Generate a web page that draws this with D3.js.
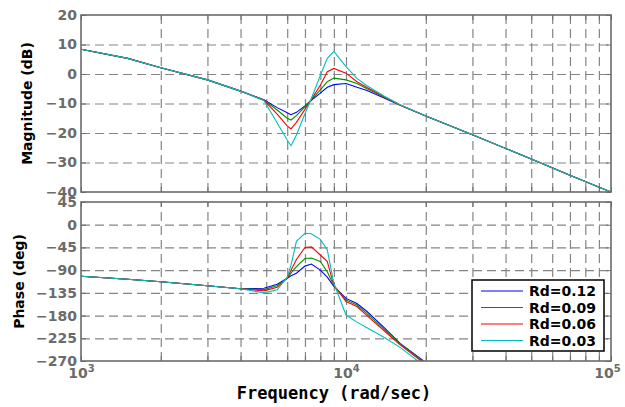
<!DOCTYPE html>
<html>
<head>
<meta charset="utf-8">
<script src="https://cdn.jsdelivr.net/npm/d3@7"></script>
<style>
  body { margin: 0; background: #fff; }
  svg { display: block; }
</style>
</head>
<body>
<script>
// frequency points (rad/sec)
var freq = [1000, 1500, 2000, 3000, 4000, 4900, 5500, 6000, 6200, 6500, 7000, 7400, 8000, 8500, 9000, 10000, 11000, 12000, 14000, 16000, 20000, 30000, 50000, 70000, 100000];

// magnitude (dB)
var magRd012 = [8.4, 5.3, 2.1, -2.0, -5.8, -8.7, -11.4, -13.1, -13.8, -13.0, -10.8, -8.9, -6.5, -4.5, -3.6, -3.2, -4.5, -5.6, -8.2, -10.6, -14.2, -20.6, -28.8, -34.3, -40];
var magRd009 = [8.4, 5.3, 2.1, -2.0, -5.8, -8.8, -12.2, -15.0, -15.6, -14.1, -11.1, -8.8, -5.4, -2.6, -1.4, -2.0, -3.2, -5.0, -7.9, -10.5, -14.2, -20.6, -28.8, -34.3, -40];
var magRd006 = [8.4, 5.3, 2.1, -2.0, -5.8, -8.9, -13.6, -17.6, -18.6, -16.4, -12.0, -8.6, -3.8, 0.8, 1.9, 0.3, -2.6, -4.6, -7.8, -10.5, -14.2, -20.6, -28.8, -34.3, -40];
var magRd003 = [8.4, 5.3, 2.1, -2.0, -5.8, -9.0, -16.6, -22.4, -24.3, -20.7, -13.5, -8.3, -0.5, 5.3, 7.7, 2.5, -1.5, -4.0, -7.6, -10.4, -14.2, -20.6, -28.8, -34.3, -40];

// phase (deg), null where the curve is off the chart
var phRd012 = [-102, -108, -113, -121, -127, -126, -118, -106, -101, -96, -82, -78, -90, -104, -122, -146, -156, -172, -205, -235, -273, null, null, null, null];
var phRd009 = [-102, -108, -113, -121, -127, -128.5, -121, -106, -96, -83, -67, -66, -73, -93, -121, -149, -159, -176, -208, -236, -275, null, null, null, null];
var phRd006 = [-102, -108, -113, -121, -127, -131, -124, -106, -90, -69, -45, -44, -60, -73, -120, -152, -162, -180, -211, -238, -277, null, null, null, null];
var phRd003 = [-102, -108, -113, -121, -127, -135, -129, -104, -80, -33, -17, -18, -29, -50, -116, -179, -193, -204, -224, -243, -282, null, null, null, null];

var seriesNames = ["Rd=0.12", "Rd=0.09", "Rd=0.06", "Rd=0.03"];
var seriesColors = ["#0000ff", "#009000", "#ff0000", "#00bfbf"];
var magSeries = [magRd012, magRd009, magRd006, magRd003];
var phSeries = [phRd012, phRd009, phRd006, phRd003];

var magTicks = [20, 10, 0, -10, -20, -30, -40];
var phTicks = [45, 0, -45, -90, -135, -180, -225, -270];
var decades = [1e3, 1e4, 1e5];

// all log grid positions 1..9 x 10^n
var logTicks = [];
[1e3, 1e4].forEach(function (d) {
	for (var k = 1; k < 10; k++) logTicks.push(d * k);
});
logTicks.push(1e5);

var W = 625, H = 407;
var left = 81, right = 611;
var magTop = 15, magBottom = 192;
var phTop = 202, phBottom = 361;

var svg = d3.select("body").append("svg")
	.attr("width", W)
	.attr("height", H);

var x = d3.scaleLog().domain([1e3, 1e5]).range([left, right]);
var yMag = d3.scaleLinear().domain([-40, 20]).range([magBottom, magTop]);
var yPh = d3.scaleLinear().domain([-270, 45]).range([phBottom, phTop]);

var tickFont = "DejaVu Sans, sans-serif";
var tickColor = "#6b6b6b";
var boxColor = "#6b6b6b";
var gridColor = "#858585";

function drawPanel(id, y, top, bottom, yTicks, seriesList) {
	var g = svg.append("g").attr("class", id);

	svg.append("clipPath").attr("id", "clip-" + id)
		.append("rect")
		.attr("x", left).attr("y", top)
		.attr("width", right - left).attr("height", bottom - top);

	// vertical grid
	g.append("g")
		.attr("transform", "translate(0," + bottom + ")")
		.call(d3.axisBottom(x).tickValues(logTicks.slice(1, -1)).tickSize(-(bottom - top)).tickFormat(""))
		.call(function (a) {
			a.select(".domain").remove();
			a.selectAll("line").attr("stroke", gridColor).attr("stroke-width", 1.2).attr("stroke-dasharray", "9,5");
		});

	// horizontal grid
	g.append("g")
		.attr("transform", "translate(" + left + ",0)")
		.call(d3.axisLeft(y).tickValues(yTicks.slice(1, -1)).tickSize(-(right - left)).tickFormat(""))
		.call(function (a) {
			a.select(".domain").remove();
			a.selectAll("line").attr("stroke", gridColor).attr("stroke-width", 1.2).attr("stroke-dasharray", "9,5");
		});

	// curves
	var line = d3.line()
		.defined(function (d) { return d.v != null; })
		.x(function (d) { return x(d.f); })
		.y(function (d) { return y(d.v); });

	var curves = g.append("g").attr("clip-path", "url(#clip-" + id + ")");
	seriesList.forEach(function (vals, i) {
		var pts = freq.map(function (f, j) { return { f: f, v: vals[j] }; });
		curves.append("path")
			.datum(pts)
			.attr("fill", "none")
			.attr("stroke", seriesColors[i])
			.attr("stroke-width", 1.1)
			.attr("d", line);
	});

	// inward ticks on all four sides
	function styleTicks(a) {
		a.select(".domain").remove();
		a.selectAll("line").attr("stroke", boxColor).attr("stroke-width", 1);
	}
	g.append("g").attr("transform", "translate(0," + bottom + ")")
		.call(d3.axisBottom(x).tickValues(logTicks).tickSize(-5).tickFormat(""))
		.call(styleTicks);
	g.append("g").attr("transform", "translate(0," + top + ")")
		.call(d3.axisTop(x).tickValues(logTicks).tickSize(-5).tickFormat(""))
		.call(styleTicks);
	g.append("g").attr("transform", "translate(" + right + ",0)")
		.call(d3.axisRight(y).tickValues(yTicks).tickSize(-5).tickFormat(""))
		.call(styleTicks);

	// left axis with labels
	g.append("g").attr("transform", "translate(" + left + ",0)")
		.call(d3.axisLeft(y).tickValues(yTicks).tickSize(-5).tickPadding(4)
			.tickFormat(function (d) { return d < 0 ? "\u2212" + Math.abs(d) : d; }))
		.call(function (a) {
			styleTicks(a);
			a.selectAll("text")
				.attr("font-family", tickFont)
				.attr("font-weight", "bold")
				.attr("font-size", 14)
				.attr("fill", tickColor);
		});

	// box
	g.append("rect")
		.attr("x", left).attr("y", top)
		.attr("width", right - left).attr("height", bottom - top)
		.attr("fill", "none")
		.attr("stroke", boxColor)
		.attr("stroke-width", 1.6);

	return g;
}

drawPanel("mag", yMag, magTop, magBottom, magTicks, magSeries);
drawPanel("ph", yPh, phTop, phBottom, phTicks, phSeries);

// decade labels 10^n under the phase panel
var xLab = svg.append("g").attr("transform", "translate(0," + phBottom + ")")
	.call(d3.axisBottom(x).tickValues(decades).tickSize(0).tickPadding(5).tickFormat(""));
xLab.select(".domain").remove();
xLab.selectAll(".tick text").each(function (d) {
	var t = d3.select(this)
		.attr("font-family", tickFont)
		.attr("font-weight", "bold")
		.attr("font-size", 14)
		.attr("fill", tickColor)
		.attr("dy", "0.85em")
		.attr("dx", d === 1e5 ? -4 : 0);
	t.append("tspan").text("10");
	t.append("tspan").attr("font-size", 10).attr("dy", "-6").text(Math.round(Math.log10(d)));
});

// axis titles
svg.append("text")
	.attr("transform", "translate(32," + ((magTop + magBottom) / 2) + ") rotate(-90)")
	.attr("text-anchor", "middle")
	.attr("font-family", tickFont)
	.attr("font-weight", "bold")
	.attr("font-size", 14)
	.attr("fill", "#000")
	.text("Magnitude (dB)");

svg.append("text")
	.attr("transform", "translate(24," + ((phTop + phBottom) / 2) + ") rotate(-90)")
	.attr("text-anchor", "middle")
	.attr("font-family", tickFont)
	.attr("font-weight", "bold")
	.attr("font-size", 14)
	.attr("fill", "#000")
	.text("Phase (deg)");

svg.append("text")
	.attr("x", (left + right) / 2 - 12)
	.attr("y", 399)
	.attr("text-anchor", "middle")
	.attr("font-family", "DejaVu Sans Mono, monospace")
	.attr("font-weight", "bold")
	.attr("font-size", 17)
	.attr("fill", "#000")
	.text("Frequency (rad/sec)");

// legend
var legend = svg.append("g").attr("transform", "translate(472,280)");
legend.append("rect")
	.attr("width", 132).attr("height", 71)
	.attr("fill", "#fff")
	.attr("stroke", "#000")
	.attr("stroke-width", 1.5);
seriesNames.forEach(function (name, i) {
	var yy = 11 + i * 16.5;
	legend.append("line")
		.attr("x1", 9).attr("x2", 51)
		.attr("y1", yy).attr("y2", yy)
		.attr("stroke", seriesColors[i])
		.attr("stroke-width", 1.1);
	legend.append("text")
		.attr("x", 57).attr("y", yy)
		.attr("dy", "0.36em")
		.attr("font-family", tickFont)
		.attr("font-weight", "bold")
		.attr("font-size", 14)
		.attr("fill", "#000")
		.text(name);
});
</script>
</body>
</html>
